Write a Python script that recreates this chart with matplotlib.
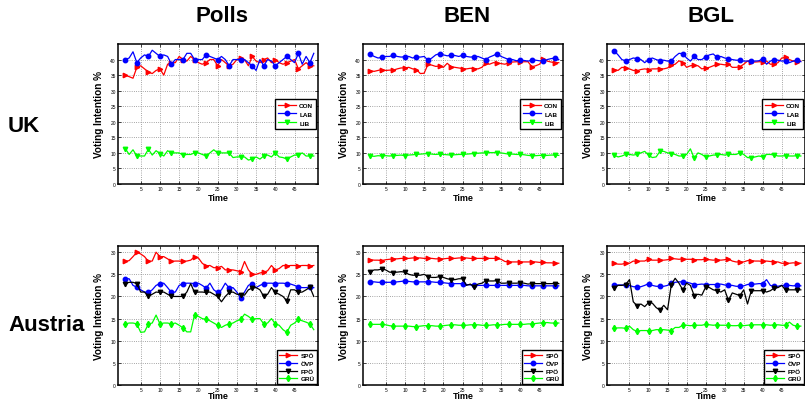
import matplotlib
matplotlib.use("Agg")
import matplotlib.pyplot as plt
import numpy as np

plt.rcParams['font.family'] = ['Liberation Sans', 'DejaVu Sans']

time = list(range(1, 51))
col_titles = ["Polls", "BEN", "BGL"]
row_titles = ["UK", "Austria"]

uk_parties = ["CON", "LAB", "LIB"]
at_parties = ["SPÖ", "ÖVP", "FPÖ", "GRÜ"]

# ---------------- UK ----------------
uk_polls_con = [35, 34.5, 34, 37.5, 38, 37, 36, 35.5, 36.5, 37,
                35, 38.5, 39, 39, 41, 40, 39.5, 41, 40, 39,
                38.5, 39, 40, 40, 38, 40, 39, 38, 38.5, 40,
                40.5, 40, 38, 41, 39.5, 39, 40, 40.5, 39, 40,
                39, 38.5, 39, 39.5, 40, 37, 38, 39, 38, 38]
uk_polls_lab = [40, 40.5, 42.5, 39, 40.5, 41.5, 41, 43, 42, 41,
                41.5, 41, 38.5, 40, 40, 40, 42, 42, 40, 40,
                40, 41.5, 41, 40.5, 40, 41, 40, 38, 40, 40,
                40, 40, 39, 38, 36.5, 40, 38, 40, 39.5, 38,
                39, 40, 41, 40, 39, 42, 38.5, 41, 39, 42]
uk_polls_lib = [11.4, 9.5, 11, 9, 9, 9, 11.2, 9.3, 10.7, 9.8,
                9, 10.7, 10, 10, 10, 9.3, 9.5, 9.5, 10, 10,
                9.5, 9, 10, 11, 10, 10, 10, 10, 8.5, 8.7,
                8.7, 8.7, 7.7, 8, 8.7, 8, 9, 9.3, 8.7, 10,
                8.7, 8.5, 8, 8.7, 9.3, 9.3, 10, 9, 9, 9]

uk_ben_con = [36.4, 36.2, 36.5, 36.8, 36.5, 36.6, 36.6, 37, 37.3, 37.3,
              37.5, 37, 36.8, 35.5, 35.6, 38.5, 38.2, 37.8, 37.9, 37.5,
              38.8, 37.7, 37.5, 37.3, 37.1, 37, 37.2, 37.1, 37, 37.5,
              38.8, 38.5, 39, 38.9, 38.7, 38.5, 39, 39.2, 39.3, 39.2,
              39.3, 39.3, 37.7, 38, 38.5, 40.3, 39.5, 39.2, 39, 39]
uk_ben_lab = [41.7, 41, 40.5, 40.7, 41, 41, 41.4, 41, 40.8, 40.9,
              41, 40.5, 40.9, 40.8, 41, 39.8, 40.5, 41.5, 41.9, 41.5,
              41.2, 41.4, 41.3, 41, 41.4, 41, 40.8, 40.9, 41, 40.5,
              40, 40.8, 41.3, 41.9, 41, 40.5, 40, 40, 39.6, 39.8,
              39.7, 39.5, 39.8, 39.8, 39.6, 39.5, 40, 40.3, 40.5, 40]
uk_ben_lib = [9, 8.9, 9.1, 9, 9.1, 9, 9.1, 9.2, 9.3, 9.1,
              9.3, 9.4, 9.5, 9.6, 9.7, 9.8, 9.6, 9.5, 9.6, 9.5,
              9.4, 9.3, 9.4, 9.5, 9.5, 9.6, 9.7, 9.8, 9.9, 10,
              10, 10.1, 10.1, 10.1, 10, 9.8, 9.6, 9.6, 9.5, 9.5,
              9.4, 9.2, 9.1, 9.1, 9.2, 9.1, 9.2, 9.3, 9.3, 9.2]

uk_bgl_con = [36.8, 36.5, 37.5, 37.3, 37, 36.5, 36.4, 36.8, 37, 36.8,
              37, 37, 37.1, 37, 37.3, 38.2, 38.5, 39.6, 39, 37.5,
              38, 38.2, 38, 37, 37.3, 37.5, 38, 38.5, 38.5, 38.3,
              38.5, 37.5, 37.5, 37.7, 38.5, 39.5, 39.3, 39.2, 39.3, 39.3,
              39.5, 38.5, 38.5, 39, 40.5, 40.7, 40, 39.5, 39.3, 39.5]
uk_bgl_lab = [42.8, 41.5, 40, 39.6, 40, 40.5, 40.3, 40, 39, 40,
              40.5, 40, 39.6, 39.8, 39.5, 39.6, 41, 42, 41.9, 40.5,
              39.5, 41, 40, 40, 40.9, 41.5, 41.8, 40.7, 41, 40.5,
              40.3, 40, 39.8, 39.8, 39.5, 39.5, 39.6, 39.5, 39.6, 40.3,
              38.5, 39.5, 40, 39.8, 39.5, 39.6, 39, 39.5, 39.8, 39.3]
uk_bgl_lib = [9.3, 8.7, 9, 9.5, 9.5, 9.3, 9.5, 10, 10.5, 9.3,
              8.5, 8.7, 10.5, 10.5, 10, 9.8, 9.5, 9, 9, 9.5,
              11.3, 8.3, 10, 9.5, 8.7, 9, 9.3, 9.3, 9.5, 9.3,
              9.5, 9.5, 9.5, 10, 9.5, 8.5, 8.4, 8.7, 9, 8.7,
              9.5, 9.5, 9.3, 9, 9, 9.1, 9, 9, 9.1, 9]

# ---------------- Austria ----------------
at_polls_spo = [27.9, 28.1, 29, 30, 29.6, 29, 27.9, 28, 30, 29,
                29, 28.5, 27.9, 28, 28, 27.9, 28, 28.2, 29, 28.7,
                27.5, 26.9, 27, 26.5, 26.5, 26.8, 26, 26, 26, 25.8,
                25.6, 27.9, 26, 25, 25, 25.3, 25.5, 25.8, 27, 26,
                26.3, 27, 26.9, 27, 27, 26.9, 27, 27, 26.9, 27]
at_polls_ovp = [24, 24, 22.5, 22.1, 21.5, 21, 20.9, 21.5, 22.5, 22.9,
                23, 22, 20.9, 21, 22.5, 22.9, 23, 23, 22.9, 23,
                22.5, 21.9, 23, 21.5, 20.9, 21.5, 23, 21.9, 22, 21,
                19.6, 21, 22.5, 22.9, 22, 22.5, 22.9, 23, 23, 22.9,
                23, 23, 22.9, 22.8, 22.5, 22.1, 22, 22, 22.1, 22]
at_polls_fpo = [22.9, 23.2, 23.2, 22.9, 21, 21, 20, 20.5, 21, 20.9,
                21, 20.5, 20, 20, 20, 20, 21, 22.9, 20.9, 21,
                21, 20.9, 21, 20.5, 20, 18.8, 20, 20.9, 21, 20.5,
                20.4, 20.3, 21.5, 21.9, 22, 21.5, 20, 20.5, 22, 20.9,
                20.5, 20, 19, 21.5, 21.5, 20.9, 21, 21.5, 22.1, 20]
at_polls_gru = [13.8, 14, 14, 13.8, 11.9, 12, 13.8, 14, 15.8, 13.8,
                14, 14, 13.8, 14, 13.5, 12.9, 12, 12, 15.9, 15.5,
                15, 14.8, 14.5, 14, 13.5, 13, 13.5, 13.8, 14, 14.5,
                14.8, 16, 15.5, 14.8, 15, 15, 13.8, 14, 15, 13.8,
                13.5, 12.5, 11.9, 13.5, 14, 14.8, 14.5, 14.2, 13.8, 12.5]

at_ben_spo = [28.3, 28.2, 28.2, 28.1, 28.3, 28.4, 28.5, 28.5, 28.6, 28.6,
              28.6, 28.7, 28.7, 28.7, 28.6, 28.6, 28.6, 28.5, 28.5, 28.5,
              28.6, 28.6, 28.6, 28.7, 28.7, 28.7, 28.6, 28.6, 28.6, 28.6,
              28.6, 28.6, 28.6, 28.6, 28.4, 27.9, 27.8, 27.8, 27.8, 27.8,
              27.8, 27.8, 27.8, 27.8, 27.7, 27.7, 27.6, 27.6, 27.5, 27.5]
at_ben_ovp = [23.3, 23.3, 23.2, 23.2, 23.2, 23.2, 23.2, 23.3, 23.4, 23.5,
              23.4, 23.3, 23.3, 23.3, 23.3, 23.3, 23.3, 23.2, 23.2, 23.1,
              23.0, 22.9, 22.9, 22.9, 22.9, 22.7, 22.6, 22.5, 22.5, 22.5,
              22.5, 22.5, 22.5, 22.5, 22.5, 22.5, 22.5, 22.5, 22.5, 22.5,
              22.5, 22.4, 22.4, 22.4, 22.4, 22.4, 22.4, 22.4, 22.4, 22.4]
at_ben_fpo = [25.6, 26, 26, 26.2, 26, 25.5, 25.4, 25.5, 25.6, 25.5,
              25, 24.8, 24.8, 24.8, 25, 24.5, 24.3, 24.3, 24.5, 24.3,
              24, 23.8, 23.8, 24, 24, 22.5, 22.8, 22.2, 22.8, 23,
              23.5, 23.5, 23.5, 23.6, 23, 23, 23.1, 23, 23, 23.1,
              23, 22.8, 22.9, 22.9, 22.9, 22.9, 22.9, 22.9, 22.9, 22.9]
at_ben_gru = [13.7, 13.7, 13.7, 13.7, 13.6, 13.4, 13.3, 13.3, 13.3, 13.3,
              13.3, 13.2, 13.2, 13.3, 13.4, 13.4, 13.4, 13.3, 13.3, 13.4,
              13.5, 13.6, 13.6, 13.5, 13.5, 13.5, 13.6, 13.6, 13.6, 13.5,
              13.5, 13.5, 13.6, 13.6, 13.6, 13.7, 13.7, 13.7, 13.7, 13.7,
              13.7, 13.8, 13.8, 13.9, 14.0, 14.1, 14.1, 14.0, 14.0, 14.0]

at_bgl_spo = [27.5, 27.3, 27.3, 27.5, 27.5, 28, 27.9, 28, 28, 28.5,
              28.2, 28.2, 28.2, 28.2, 28.3, 28.6, 28.5, 28.4, 28.5, 28.4,
              28.4, 28.3, 28.3, 28.3, 28.5, 28.3, 28.2, 28.3, 28.2, 28.3,
              28.5, 28, 27.8, 27.8, 27.8, 28.1, 28.1, 28, 28, 27.9,
              28, 27.9, 27.8, 27.8, 27.5, 27.5, 27.5, 27.6, 27.5, 27.5]
at_bgl_ovp = [22.5, 22.6, 22.6, 22.5, 22.5, 22.2, 22.2, 22.2, 22.5, 22.9,
              22.5, 22.3, 22.3, 22.3, 22.5, 23.1, 23.2, 23.3, 23.3, 23.2,
              23, 22.7, 22.7, 22.8, 22.7, 22.7, 22.7, 22.7, 22.8, 22.6,
              22.5, 22.5, 22.3, 22.3, 22.4, 22.7, 22.8, 22.8, 22.9, 22.9,
              23.8, 22.5, 22.3, 22.3, 22.5, 22.5, 22.5, 22.4, 22.5, 22.4]
at_bgl_fpo = [21.9, 22.5, 22.5, 22.7, 23.8, 18.8, 17.9, 18.3, 17.7, 18.6,
              18.5, 17.5, 16.9, 18, 17, 22.7, 24.1, 23, 21.5, 23,
              22.5, 20.2, 20.5, 20.3, 22.1, 22, 21.5, 21.3, 21, 21.5,
              19.1, 20.8, 20.5, 20.2, 21.5, 18.3, 21.3, 21.3, 21.3, 21.3,
              21, 21.3, 21.9, 22, 22.5, 21.5, 21.5, 21.5, 21.5, 21.5]
at_bgl_gru = [12.8, 12.9, 12.9, 12.8, 13.3, 12.5, 12.1, 12.3, 12.3, 12.3,
              12.3, 12.5, 12.5, 12.5, 12.4, 12.3, 13, 13, 13.5, 13.5,
              13.4, 13.5, 13.5, 13.5, 13.7, 13.6, 13.5, 13.6, 13.5, 13.5,
              13.5, 13.4, 13.4, 13.5, 13.4, 13.5, 13.6, 13.6, 13.6, 13.6,
              13.6, 13.5, 13.6, 13.6, 13.5, 13.5, 14.2, 13.5, 13.3, 13.3]

uk_data = [
    [uk_polls_con, uk_polls_lab, uk_polls_lib],
    [uk_ben_con, uk_ben_lab, uk_ben_lib],
    [uk_bgl_con, uk_bgl_lab, uk_bgl_lib],
]
at_data = [
    [at_polls_spo, at_polls_ovp, at_polls_fpo, at_polls_gru],
    [at_ben_spo, at_ben_ovp, at_ben_fpo, at_ben_gru],
    [at_bgl_spo, at_bgl_ovp, at_bgl_fpo, at_bgl_gru],
]

uk_styles = [("#FF0000", ">"), ("#0000FF", "o"), ("#00FF00", "v")]
at_styles = [("#FF0000", ">"), ("#0000FF", "o"), ("#000000", "v"), ("#00FF00", "d")]

W, H = 805, 402
fig = plt.figure(figsize=(W / 100, H / 100), dpi=100)

col_left = [118, 363, 607]
col_width = [200, 200, 198]
row_top = [45, 247]
row_height = [140, 139]


def make_ax(ci, ri):
    l = col_left[ci] / W
    b = 1 - (row_top[ri] + row_height[ri]) / H
    return fig.add_axes([l, b, col_width[ci] / W, row_height[ri] / H])


def style_ax(ax, ymax, yticks):
    ax.set_xlim(-0.9, 51.1)
    ax.set_ylim(0, ymax)
    ax.set_xticks([5, 10, 15, 20, 25, 30, 35, 40, 45])
    ax.set_yticks(yticks)
    ax.tick_params(direction='in', length=2, width=0.5, labelsize=3.5, pad=1.5,
                   top=True, right=True)
    ax.grid(True, linestyle=':', color='#888888', linewidth=0.6)
    for s in ax.spines.values():
        s.set_linewidth(1.1)
        s.set_color('black')
    ax.set_xlabel("Time", fontsize=6.5, fontweight='bold')
    ax.set_ylabel("Voting Intention %", fontsize=7.2, fontweight='bold')
    ax.xaxis.set_label_coords(0.5, -0.062)
    ax.yaxis.set_label_coords(-0.07, 0.5)


for ci in range(3):
    ax = make_ax(ci, 0)
    for series, name, (c, m) in zip(uk_data[ci], uk_parties, uk_styles):
        ax.plot(time, series, color=c, lw=0.9, marker=m, markersize=3.2,
                markevery=3, label=name)
    style_ax(ax, 45, [0, 5, 10, 15, 20, 25, 30, 35, 40])
    leg = ax.legend(loc='center right', prop={'weight': 'bold', 'size': 4.6},
                    handlelength=2.8, borderaxespad=0.25, borderpad=0.5,
                    labelspacing=0.55, handletextpad=0.5, fancybox=False, framealpha=1)
    leg.get_frame().set_edgecolor('black')
    leg.get_frame().set_linewidth(1.0)

    ax2 = make_ax(ci, 1)
    for series, name, (c, m) in zip(at_data[ci], at_parties, at_styles):
        ax2.plot(time, series, color=c, lw=0.9, marker=m, markersize=3.2,
                 markevery=3, label=name)
    style_ax(ax2, 31.4, [0, 5, 10, 15, 20, 25, 30])
    ax2.xaxis.set_label_coords(0.5, -0.04)
    leg2 = ax2.legend(loc='lower right', prop={'weight': 'bold', 'size': 4.6},
                      handlelength=2.8, borderaxespad=0.15, borderpad=0.4,
                      labelspacing=0.35, handletextpad=0.5, fancybox=False, framealpha=1)
    leg2.get_frame().set_edgecolor('black')
    leg2.get_frame().set_linewidth(1.0)

    cx = (col_left[ci] + 200 / 2 + 4) / W
    fig.text(cx, 1 - 16 / H, col_titles[ci], ha='center', va='center',
             fontsize=16, fontweight='bold')

fig.text(8 / W, 1 - 126 / H, row_titles[0], ha='left', va='center',
         fontsize=16, fontweight='bold')
fig.text(8 / W, 1 - 326 / H, row_titles[1], ha='left', va='center',
         fontsize=16, fontweight='bold')

fig.savefig("out.png", dpi=100)
